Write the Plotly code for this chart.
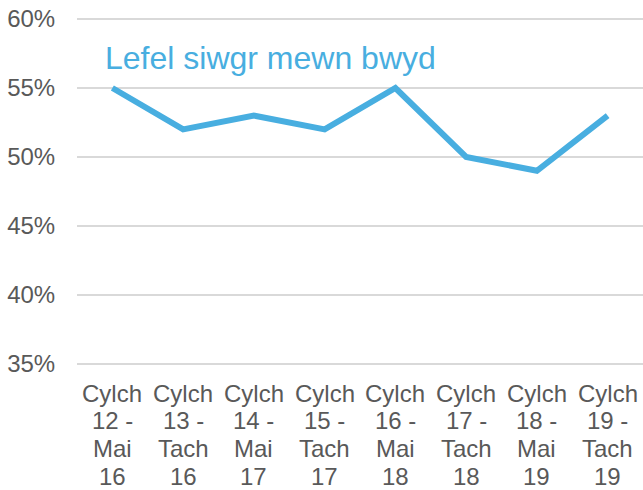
import plotly.graph_objects as go

# Category labels (lines separated by "|")
categories = [
    "Cylch|12 -|Mai|16",
    "Cylch|13 -|Tach|16",
    "Cylch|14 -|Mai|17",
    "Cylch|15 -|Tach|17",
    "Cylch|16 -|Mai|18",
    "Cylch|17 -|Tach|18",
    "Cylch|18 -|Mai|19",
    "Cylch|19 -|Tach|19",
]
sugar_level = [0.55, 0.52, 0.53, 0.52, 0.55, 0.50, 0.49, 0.53]
y_ticks = [0.35, 0.40, 0.45, 0.50, 0.55, 0.60]
series_label = "Lefel siwgr mewn bwyd"

LINE_COLOR = "#48AEE0"
TEXT_COLOR = "#595959"
GRID_COLOR = "#D9D9D9"
FONT = "Liberation Sans, Arial, sans-serif"

fig = go.Figure()
fig.add_trace(go.Scatter(
    x=categories, y=sugar_level, mode="lines",
    line=dict(color=LINE_COLOR, width=6),
    showlegend=False, hoverinfo="skip",
))

# series label inside plot
fig.add_annotation(
    x=0.0456, y=1, xref="paper", yref="paper", yshift=-41,
    text=series_label, showarrow=False,
    font=dict(family=FONT, size=32, color=LINE_COLOR),
    xanchor="left", yanchor="middle",
)

# multi-line category labels with tighter line spacing
line_shifts = [-27.4, -54.9, -82.9, -110.4]
for cat in categories:
    for i, part in enumerate(cat.split("|")):
        fig.add_annotation(
            x=cat, y=0, xref="x", yref="paper", yshift=line_shifts[i],
            text=part, showarrow=False,
            font=dict(family=FONT, size=24, color=TEXT_COLOR),
            xanchor="center", yanchor="middle",
        )

fig.update_layout(
    width=643, height=490,
    margin=dict(l=77, r=0, t=17, b=124),
    paper_bgcolor="white", plot_bgcolor="white",
    font=dict(family=FONT, size=24, color=TEXT_COLOR),
)
fig.update_xaxes(
    type="category", range=[-0.5, 7.5],
    showgrid=False, zeroline=False, showline=False,
    showticklabels=False,
)
fig.update_yaxes(
    range=[0.34855, 0.60145], tickvals=y_ticks, tickformat=".0%",
    showgrid=True, gridcolor=GRID_COLOR, gridwidth=2,
    zeroline=False, showline=False,
    ticks="outside", ticklen=16, tickcolor="rgba(0,0,0,0)",
    tickfont=dict(family=FONT, size=24, color=TEXT_COLOR),
    automargin=False,
)

fig.write_html(
    "out.html",
    config={"displayModeBar": False},
    post_script="document.body.style.margin='0';document.body.style.overflow='hidden';",
)
